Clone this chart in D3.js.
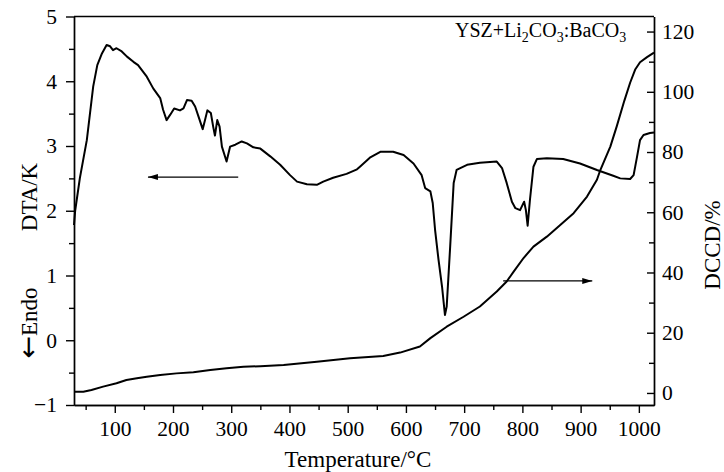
<!DOCTYPE html>
<html>
<head>
<meta charset="utf-8">
<script src="https://cdn.jsdelivr.net/npm/d3@7"></script>
<style>
    body { margin: 0; background: #fff; }
    svg { display: block; font-family: "Liberation Serif", "Times New Roman", serif; }
    .axis path, .axis line { stroke: #000; stroke-width: 1.4; }
    .curve { fill: none; stroke: #000; stroke-width: 2; stroke-linejoin: round; }
</style>
</head>
<body>
<svg width="724" height="472"></svg>
<script>
    // temperature (°C) / DTA (K)
    const dtaT = [30, 32, 40, 52, 63, 70, 78, 86, 92, 97, 103, 112, 121, 132, 140, 155, 166, 178, 183, 189, 195, 202, 212, 218, 224, 232, 238, 244, 251, 255, 259, 265, 269, 272, 276, 280, 284, 292, 298, 307, 318, 327, 338, 350, 367, 384, 401, 413, 430, 447, 458, 475, 498, 516, 521, 538, 556, 578, 596, 613, 627, 633, 642, 646, 650, 656, 662, 667, 670, 676, 682, 687, 705, 727, 756, 765, 773, 782, 788, 796, 803, 806, 809, 813, 819, 825, 842, 870, 899, 928, 956, 968, 985, 991, 997, 1002, 1008, 1019, 1026];
    const dtaV = [1.78, 2.0, 2.5, 3.09, 3.92, 4.25, 4.43, 4.56, 4.54, 4.48, 4.51, 4.46, 4.38, 4.30, 4.25, 4.07, 3.89, 3.74, 3.56, 3.40, 3.48, 3.58, 3.55, 3.58, 3.71, 3.70, 3.61, 3.45, 3.26, 3.40, 3.55, 3.51, 3.30, 3.16, 3.40, 3.30, 2.99, 2.76, 2.99, 3.02, 3.07, 3.04, 2.98, 2.96, 2.84, 2.71, 2.55, 2.45, 2.41, 2.40, 2.45, 2.51, 2.57, 2.64, 2.68, 2.82, 2.91, 2.91, 2.86, 2.73, 2.55, 2.35, 2.30, 2.12, 1.71, 1.24, 0.83, 0.39, 0.52, 1.45, 2.43, 2.63, 2.71, 2.74, 2.76, 2.66, 2.43, 2.14, 2.04, 2.01, 2.14, 2.01, 1.77, 2.17, 2.68, 2.80, 2.81, 2.80, 2.73, 2.63, 2.54, 2.50, 2.49, 2.55, 2.84, 3.09, 3.17, 3.20, 3.21];

    // temperature (°C) / DCCD (%)
    const dccdT = [30, 46, 60, 80, 103, 120, 138, 155, 178, 206, 235, 264, 292, 321, 350, 390, 447, 504, 561, 590, 624, 642, 670, 699, 727, 756, 773, 785, 802, 819, 842, 865, 888, 911, 928, 934, 951, 962, 975, 985, 994, 1002, 1014, 1026];
    const dccdV = [0.4, 0.4, 1.0, 2.1, 3.2, 4.3, 4.9, 5.4, 6.0, 6.5, 6.9, 7.6, 8.2, 8.7, 8.9, 9.3, 10.4, 11.5, 12.3, 13.4, 15.4, 18.2, 22.0, 25.3, 28.7, 33.7, 37.0, 40.3, 44.8, 48.6, 51.9, 55.8, 59.7, 65.2, 70.8, 74.1, 81.8, 88.5, 97.0, 103.0, 107.5, 109.8, 111.5, 113.0];

    const xTicks = [100, 200, 300, 400, 500, 600, 700, 800, 900, 1000];
    const xMinor = [50, 150, 250, 350, 450, 550, 650, 750, 850, 950];
    const leftTicks = [-1, 0, 1, 2, 3, 4, 5];
    const leftMinor = [-0.5, 0.5, 1.5, 2.5, 3.5, 4.5];
    const rightTicks = [0, 20, 40, 60, 80, 100, 120];
    const rightMinor = [10, 30, 50, 70, 90, 110];

    const plotL = 74, plotR = 654, plotT = 16.5, plotB = 405;
    const serif = "Liberation Serif, Times New Roman, serif";

    const svg = d3.select("svg");
    svg.append("rect").attr("width", 724).attr("height", 472).attr("fill", "#fff");

    const x = d3.scaleLinear().domain([30, 1026]).range([plotL, plotR]);
    const yL = d3.scaleLinear().domain([-1, 5]).range([plotB, plotT]);
    const yR = d3.scaleLinear().domain([-4, 125]).range([plotB, plotT]);

    function styleAxis(g) {
        g.attr("class", "axis").attr("font-family", serif).attr("font-size", 21.5);
        g.selectAll("text").attr("fill", "#000");
    }

    // minor ticks first, no labels
    svg.append("g").attr("transform", `translate(0,${plotB})`)
        .call(d3.axisBottom(x).tickValues(xMinor).tickSize(5).tickSizeOuter(0).tickFormat(""))
        .call(styleAxis);
    svg.append("g").attr("transform", `translate(${plotL},0)`)
        .call(d3.axisLeft(yL).tickValues(leftMinor).tickSize(5).tickSizeOuter(0).tickFormat(""))
        .call(styleAxis);
    svg.append("g").attr("transform", `translate(${plotR},0)`)
        .call(d3.axisRight(yR).tickValues(rightMinor).tickSize(-5).tickSizeOuter(0).tickFormat(""))
        .call(styleAxis);

    svg.append("g").attr("transform", `translate(0,${plotB})`)
        .call(d3.axisBottom(x).tickValues(xTicks).tickSize(8).tickSizeOuter(0).tickPadding(8)
            .tickFormat(d3.format("d")))
        .call(styleAxis);
    svg.append("g").attr("transform", `translate(${plotL},0)`)
        .call(d3.axisLeft(yL).tickValues(leftTicks).tickSize(8).tickSizeOuter(0).tickPadding(9)
            .tickFormat(d => d < 0 ? "\u2212" + Math.abs(d) : d))
        .call(styleAxis);
    svg.append("g").attr("transform", `translate(${plotR},0)`)
        .call(d3.axisRight(yR).tickValues(rightTicks).tickSize(-7).tickSizeOuter(0).tickPadding(8)
            .tickFormat(d3.format("d")))
        .call(styleAxis);

    // top border
    svg.append("line").attr("x1", plotL).attr("x2", plotR).attr("y1", plotT).attr("y2", plotT)
        .attr("stroke", "#000").attr("stroke-width", 1.4);

    const dta = dtaT.map((t, i) => [t, dtaV[i]]);
    const dccd = dccdT.map((t, i) => [t, dccdV[i]]);

    svg.append("path").attr("class", "curve")
        .attr("d", d3.line().x(d => x(d[0])).y(d => yL(d[1]))(dta));
    svg.append("path").attr("class", "curve")
        .attr("d", d3.line().x(d => x(d[0])).y(d => yR(d[1]))(dccd));

    // arrows pointing to the matching axis
    function arrow(x1, y1, x2, y2) {
        svg.append("line").attr("x1", x1).attr("y1", y1).attr("x2", x2).attr("y2", y2)
            .attr("stroke", "#000").attr("stroke-width", 1.3);
        const dir = Math.sign(x2 - x1);
        svg.append("path")
            .attr("d", `M${x2},${y2} L${x2 - dir * 10},${y2 - 3} L${x2 - dir * 10},${y2 + 3} Z`)
            .attr("fill", "#000");
    }
    arrow(x(312), yL(2.52), x(157), yL(2.52));
    arrow(x(767), yR(37.2), x(920), yR(37.2));

    // titles
    svg.append("text").attr("x", 358).attr("y", 467).attr("text-anchor", "middle")
        .attr("font-size", 23).text("Temperature/°C");
    svg.append("text").attr("transform", "translate(37,197) rotate(-90)").attr("text-anchor", "middle")
        .attr("font-size", 23).text("DTA/K");
    const endo = svg.append("text").attr("transform", "translate(37,323) rotate(-90)")
        .attr("text-anchor", "middle").attr("font-size", 23);
    endo.append("tspan").attr("font-family", "DejaVu Sans").attr("font-size", 27).text("\u2190");
    endo.append("tspan").text("Endo");
    svg.append("text").attr("transform", "translate(720,245) rotate(-90)").attr("text-anchor", "middle")
        .attr("font-size", 23).text("DCCD/%");

    const legend = svg.append("text").attr("x", 455).attr("y", 37).attr("font-size", 20);
    legend.append("tspan").text("YSZ+Li");
    legend.append("tspan").attr("dy", 5).attr("font-size", 14).text("2");
    legend.append("tspan").attr("dy", -5).text("CO");
    legend.append("tspan").attr("dy", 5).attr("font-size", 14).text("3");
    legend.append("tspan").attr("dy", -5).text(":BaCO");
    legend.append("tspan").attr("dy", 5).attr("font-size", 14).text("3");
</script>
</body>
</html>
